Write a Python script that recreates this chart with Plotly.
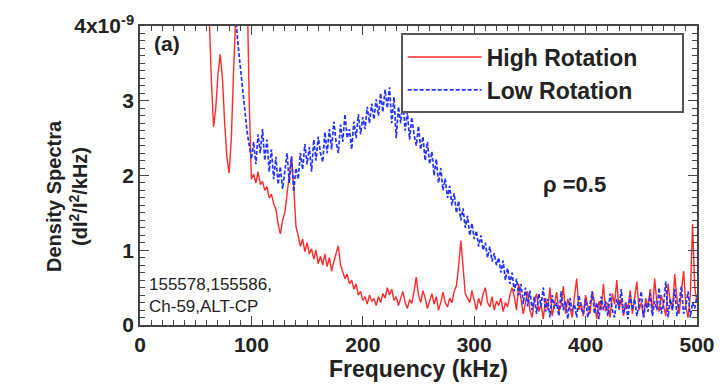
import plotly.graph_objects as go

# High rotation spectrum, sampled every 2 kHz from 60 kHz (units of 1e-9)
red_start = 60
red_vals = [4.8, 4.2, 3.3, 2.65, 2.9, 3.35, 3.62, 3.3, 2.7, 2.25,
            2.03, 2.5, 3.4, 4.3, 4.9, 5.0, 4.6, 4.4, 4.7, 3.0,
            1.95, 2.02, 1.9, 2.05, 1.88, 1.92, 1.8, 1.85, 1.7, 1.75,
            1.62, 1.55, 1.35, 1.22, 1.4, 1.5, 1.75, 2.05, 2.26, 1.85,
            1.32, 1.2, 1.05, 1.15, 0.98, 1.1, 0.95, 1.02, 0.88, 1.0,
            0.82, 0.92, 0.8, 0.95, 0.78, 0.9, 0.72, 0.85, 0.95, 1.06,
            0.8, 0.7, 0.62, 0.68, 0.55, 0.6, 0.48, 0.55, 0.4, 0.45,
            0.33, 0.38, 0.28, 0.4, 0.32, 0.35, 0.26, 0.38, 0.3, 0.42,
            0.36, 0.5, 0.4, 0.48, 0.33, 0.38, 0.26, 0.36, 0.45, 0.3,
            0.22, 0.34, 0.29, 0.45, 0.64, 0.4, 0.3, 0.46, 0.36, 0.22,
            0.32, 0.42, 0.28, 0.38, 0.2, 0.3, 0.44, 0.3, 0.24, 0.36,
            0.3, 0.45, 0.52, 0.78, 1.13, 0.72, 0.42, 0.36, 0.3, 0.46,
            0.32, 0.2, 0.36, 0.26, 0.42, 0.5, 0.3, 0.24, 0.38, 0.2,
            0.32, 0.26, 0.36, 0.18, 0.3, 0.24, 0.4, 0.5, 0.38, 0.2,
            0.55, 0.35, 0.15, 0.3, 0.45, 0.2, 0.1, 0.32, 0.42, 0.18,
            0.28, 0.08, 0.36, 0.2, 0.5, 0.12, 0.3, 0.44, 0.18, 0.26,
            0.52, 0.15, 0.35, 0.22, 0.1, 0.38, 0.62, 0.2, 0.3, 0.12,
            0.4, 0.25, 0.15, 0.45, 0.3, 0.08, 0.32, 0.2, 0.55, 0.18,
            0.3, 0.1, 0.42, 0.28, 0.6, 0.2, 0.35, 0.12, 0.3, 0.22,
            0.46, 0.15, 0.38, 0.58, 0.2, 0.3, 0.1, 0.36, 0.24, 0.48,
            0.15, 0.62, 0.3, 0.18, 0.4, 0.25, 0.12, 0.55, 0.3, 0.2,
            0.68, 0.35, 0.15, 0.45, 0.72, 0.25, 0.1, 0.4, 1.35, 0.5,
            0.3]

# Low rotation spectrum, sampled every 2 kHz from 84 kHz (units of 1e-9)
blue_start = 84
blue_vals = [5.0, 4.1, 3.75, 3.45, 3.15, 2.85, 2.6, 2.4,
             2.22, 2.45, 2.15, 2.55, 2.3, 2.62, 2.2, 2.48, 2.05, 2.35,
             1.95, 2.25, 1.88, 2.12, 1.82, 2.05, 2.3, 1.9, 2.25, 1.78,
             2.1, 1.95, 2.3, 2.08, 2.42, 2.15, 2.38, 2.05, 2.48, 2.2,
             2.52, 2.3, 2.18, 2.58, 2.3, 2.62, 2.35, 2.72, 2.45, 2.3,
             2.68, 2.45, 2.82, 2.5, 2.62, 2.35, 2.72, 2.5, 2.82, 2.55,
             2.78, 2.62, 2.92, 2.7, 2.96, 2.75, 3.02, 2.8, 3.1, 2.85,
             3.15, 2.9, 3.18, 2.7, 3.05, 2.5, 2.92, 2.7, 3.0, 2.6,
             2.85, 2.48, 2.78, 2.55, 2.4, 2.66, 2.35, 2.52, 2.2, 2.45,
             2.15, 2.32, 2.0, 2.22, 1.9, 2.1, 1.8, 1.96, 1.7, 1.86,
             1.6, 1.76, 1.5, 1.66, 1.4, 1.56, 1.3, 1.46, 1.2, 1.36,
             1.15, 1.26, 1.05, 1.2, 1.0, 1.1, 0.9, 1.05, 0.85, 0.96,
             0.8, 0.9, 0.7, 0.86, 0.6, 0.76, 0.55, 0.7, 0.45, 0.62,
             0.4, 0.55, 0.28, 0.5, 0.25, 0.46, 0.2, 0.38, 0.15, 0.42,
             0.25, 0.5, 0.18, 0.35, 0.1, 0.4, 0.22, 0.3, 0.12, 0.45,
             0.2, 0.32, 0.08, 0.36, 0.18, 0.28, 0.1, 0.4, 0.22, 0.15,
             0.35, 0.1, 0.28, 0.45, 0.15, 0.3, 0.08, 0.38, 0.2, 0.32,
             0.12, 0.42, 0.2, 0.1, 0.35, 0.22, 0.48, 0.15, 0.3, 0.08,
             0.4, 0.2, 0.35, 0.12, 0.28, 0.45, 0.1, 0.3, 0.18, 0.42,
             0.12, 0.32, 0.2, 0.5, 0.15, 0.28, 0.58, 0.1, 0.35, 0.2,
             0.48, 0.12, 0.3, 0.52, 0.15, 0.25, 0.45, 0.1, 0.3, 0.22,
             0.4]

red_freq = [red_start + 2 * i for i in range(len(red_vals))]
blue_freq = [blue_start + 2 * i for i in range(len(blue_vals))]

x_ticks = [0, 100, 200, 300, 400, 500]
y_ticks = [0, 1, 2, 3, 4]
y_ticktext = ["0", "1", "2", "3", "4x10<sup>-9</sup>"]

FONT = "Liberation Sans, Arial, sans-serif"
NARROW = "Liberation Sans Narrow, Liberation Sans, Arial"
NB = "\u00a0"

fig = go.Figure()
fig.add_trace(go.Scatter(x=red_freq, y=red_vals, mode="lines",
                         name="<b>High Rotation</b>" + NB * 6,
                         line=dict(color="#ff2a2a", width=1.4)))
fig.add_trace(go.Scatter(x=blue_freq, y=blue_vals, mode="lines",
                         name="<b>Low Rotation</b>",
                         line=dict(color="#2233ff", width=1.7, dash="4px,2px")))

axis_common = dict(showgrid=False, zeroline=False, showline=True, linecolor="#444",
                   linewidth=1.5, mirror="ticks", ticks="inside", tickcolor="#444",
                   tickfont=dict(family=FONT, size=21, color="#222"))

fig.update_xaxes(range=[0, 500], tickvals=x_ticks, ticktext=["<b>%d</b>" % v for v in x_ticks],
                 ticklen=9, tickwidth=1.2,
                 minor=dict(dtick=10, ticks="inside", ticklen=5, tickcolor="#444", tickwidth=1),
                 title=dict(text="<b>Frequency (kHz)</b>", font=dict(family=FONT, size=23, color="#222"),
                            standoff=2),
                 **axis_common)
fig.update_yaxes(range=[0, 4], tickvals=y_ticks, ticktext=["<b>%s</b>" % t for t in y_ticktext],
                 ticklen=9, tickwidth=1.2,
                 minor=dict(dtick=0.1, ticks="inside", ticklen=5, tickcolor="#444", tickwidth=1),
                 **axis_common)

fig.update_layout(
    width=727, height=389,
    margin=dict(l=140, r=24, t=24, b=64),
    paper_bgcolor="white", plot_bgcolor="white",
    showlegend=True,
    legend=dict(x=0.468, y=0.975, xanchor="left", yanchor="top",
                bordercolor="#555", borderwidth=2, bgcolor="white",
                font=dict(family=FONT, size=23, color="#222"), itemwidth=74,
                tracegroupgap=0),
    annotations=[
        dict(text="<b>Density Spectra<br>(dI<sup>2</sup>/I<sup>2</sup>/kHz)</b>",
             x=-0.13, y=0.43, xref="paper", yref="paper", textangle=-90,
             xanchor="center", yanchor="middle", showarrow=False,
             font=dict(family=NARROW, size=20, color="#222")),
        dict(text="<b>(a)</b>", x=0.022, y=0.985, xref="paper", yref="paper",
             xanchor="left", yanchor="top", showarrow=False,
             font=dict(family=FONT, size=21, color="#222")),
        dict(text="<b>ρ =0.5</b>", x=0.78, y=0.47, xref="paper", yref="paper",
             xanchor="center", yanchor="middle", showarrow=False,
             font=dict(family=FONT, size=22, color="#222")),
        dict(text="155578,155586,<br>Ch-59,ALT-CP", x=0.012, y=0.025, xref="paper", yref="paper",
             xanchor="left", yanchor="bottom", showarrow=False, align="left",
             font=dict(family=FONT, size=17, color="#222")),
    ],
)

fig.write_html("out.html")
